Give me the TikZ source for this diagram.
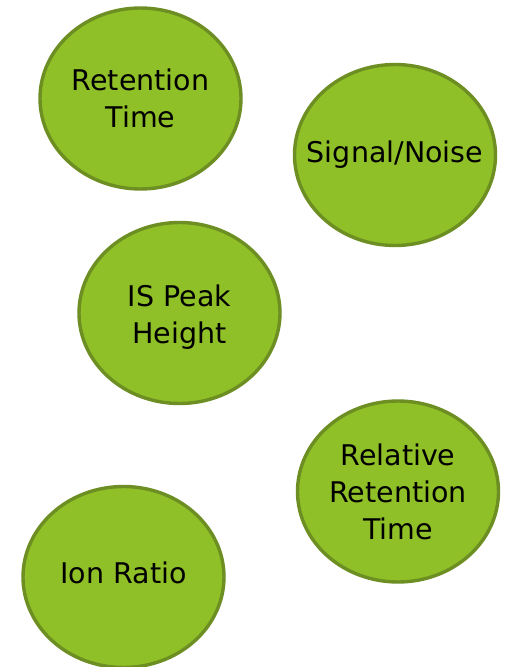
\documentclass[tikz,border=0pt]{standalone}
\usepackage{fontspec}
\setmainfont{DejaVu Sans}
\usetikzlibrary{shapes.geometric}
\definecolor{leaf}{RGB}{144,192,39}
\definecolor{leafedge}{RGB}{108,142,34}
\begin{document}
\begin{tikzpicture}[x=1pt,y=-1pt,
  bubble/.style={ellipse, draw=leafedge, fill=leaf, line width=3.4pt,
    minimum width=201pt, minimum height=181pt, inner sep=0pt},
  caption/.style={align=center, font=\fontsize{28.5}{37}\selectfont,
    text=black, inner sep=0pt}]
  \useasboundingbox (0,0) rectangle (513,667);
  % the five bubbles
  \node[bubble] (rt)  at (140.5,98.5) {};
  \node[bubble] (sn)  at (395,155)    {};
  \node[bubble] (is)  at (179.5,313)  {};
  \node[bubble] (rrt) at (398,491.5)  {};
  \node[bubble] (ir)  at (123.5,577)  {};
  % their captions
  \node[caption] (rtT)  at (rt)  {Retention\\Time};
  \node[caption] (snT)  at (sn)  {Signal/Noise};
  \node[caption] (isT)  at ([yshift=-4pt]is) {IS Peak\\Height};
  \node[caption] (rrtT) at (rrt) {Relative\\Retention\\Time};
  \node[caption] (irT)  at ([yshift=4pt]ir) {Ion Ratio};
\end{tikzpicture}
\end{document}
